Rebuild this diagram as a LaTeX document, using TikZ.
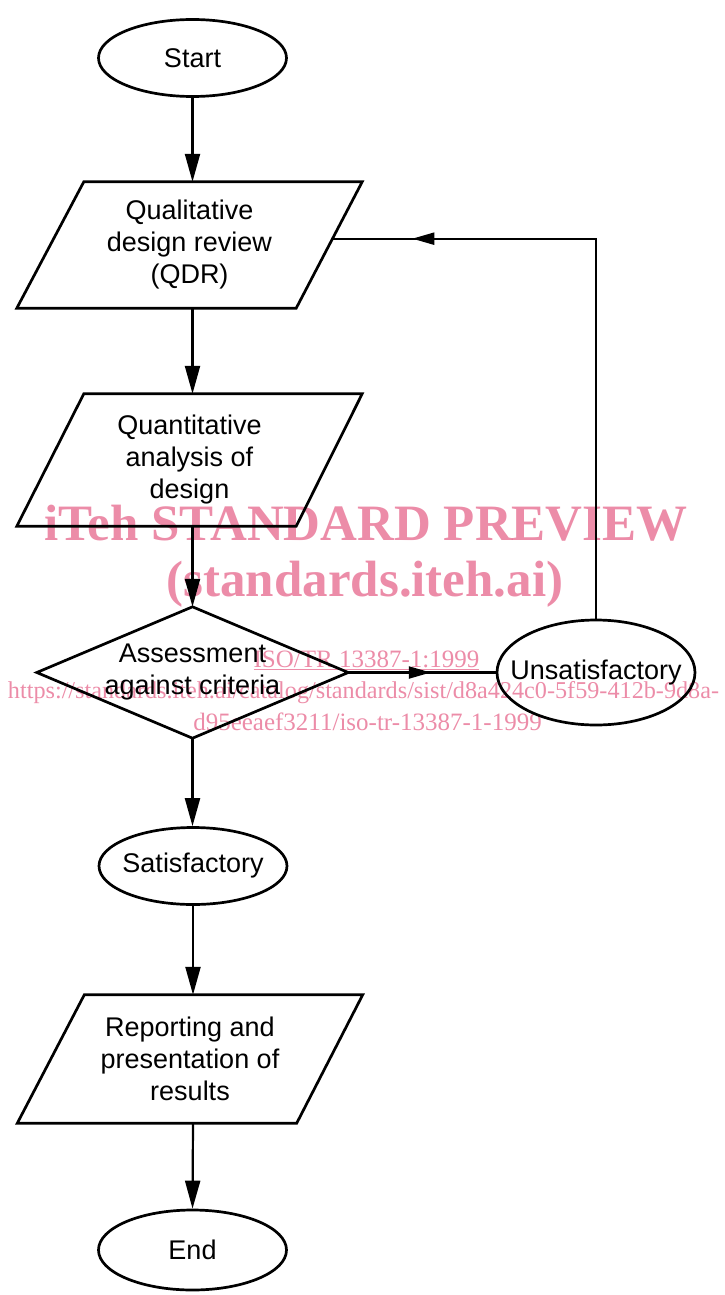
\documentclass[tikz,border=0pt]{standalone}
\usepackage{fontspec}
\setmainfont{Liberation Sans}
\newfontfamily\wmfont{Liberation Serif}
\usetikzlibrary{arrows.meta,calc,decorations.markings,shapes.geometric}
\definecolor{wmpink}{RGB}{236,140,168}
\begin{document}
\begin{tikzpicture}[x=1pt,y=-1pt,
  every node/.style={font=\fontsize{27}{32}\selectfont, align=center},
  term/.style={ellipse, draw, line width=2.7pt, inner sep=0pt, minimum width=188pt, minimum height=77pt},
  parabox/.style={rectangle, inner sep=0pt, minimum width=345pt},
  diabox/.style={rectangle, inner sep=0pt, minimum width=311pt, minimum height=131pt},
  conn/.style={line width=2.2pt, -{Triangle[length=28pt,width=15pt]}},
  flow/.style={line width=2.2pt},
  midtip/.style={postaction={decorate, decoration={markings, mark=at position #1 with {\arrow{Triangle[length=22pt,width=12pt]}}}}},
  outline/.style={line width=2.7pt, line join=miter},
  wm/.style={text=wmpink, font=\wmfont\fontsize{25}{30}\selectfont, inner sep=0pt, anchor=base}
]
\useasboundingbox (0,0) rectangle (725,1295);

% nodes
\node[term] (start) at (192.5,58) {\makebox[0pt]{Start}};
\node[parabox, minimum height=126pt] (qdr) at (189.5,245) {Qualitative\\design review\\(QDR)};
\node[parabox, minimum height=132pt] (quant) at (189.5,460) {Quantitative\\analysis of\\design};
\node[diabox] (assess) at (192.5,672.5) {Assessment\\against criteria};
\node[term, minimum width=198pt, minimum height=105pt] (unsat) at (596,672.5) {\makebox[0pt]{Unsatisfactory}};
\node[term] (sat) at (193,866) {\makebox[0pt]{Satisfactory}};
\node[parabox, minimum height=128pt] (rep) at (190,1059) {Reporting and\\presentation of\\results};
\node[term, minimum height=80pt] (end) at (192.5,1250) {\makebox[0pt]{End}};

% parallelogram and diamond outlines
\foreach \n in {qdr,quant,rep}{
  \coordinate (\n-nw) at ($(\n.north west)+(67,0)$);
  \coordinate (\n-se) at ($(\n.south east)+(-66,0)$);
  \draw[outline] (\n-nw) -- (\n.north east) -- (\n-se) -- (\n.south west) -- cycle;
}
\draw[outline] (assess.north) -- (assess.east) -- (assess.south) -- (assess.west) -- cycle;

% connectors
\draw[conn] (start.south) -- (start.south |- qdr.north);
\draw[conn] (start.south |- qdr.south) -- (start.south |- quant.north);
\draw[conn] (start.south |- quant.south) -- (assess.north);
\draw[conn] (assess.south) -- (assess.south |- sat.north);
\draw[conn] (sat.south) -- (sat.south |- rep.north);
\draw[conn] (sat.south |- rep.south) -- (end.north);
\draw[flow, midtip=0.56] (assess.east) -- (unsat.west);
\coordinate (fb) at ($(qdr.north east)!0.45!(qdr-se)$);
\draw[flow, midtip=0.876] (unsat.north) |- (fb);

% watermark
\begin{scope}[blend mode=multiply]
\node[wm, font=\wmfont\bfseries\fontsize{51}{51}\selectfont] (wm1) at (366,540) {iTeh STANDARD PREVIEW};
\node[wm, font=\wmfont\bfseries\fontsize{51}{51}\selectfont] (wm2) at (365,596) {(standards.iteh.ai)};
\node[wm] (wm3) at (366.5,667) {\underline{ISO/TR 13387-1:1999}};
\node[wm, font=\wmfont\fontsize{24.2}{30}\selectfont] (wm4) at (363.5,698) {https://standards.iteh.ai/catalog/standards/sist/d8a424c0-5f59-412b-9d8a-};
\node[wm] (wm5) at (367.5,730) {d95eeaef3211/iso-tr-13387-1-1999};
\end{scope}
\end{tikzpicture}
\end{document}
